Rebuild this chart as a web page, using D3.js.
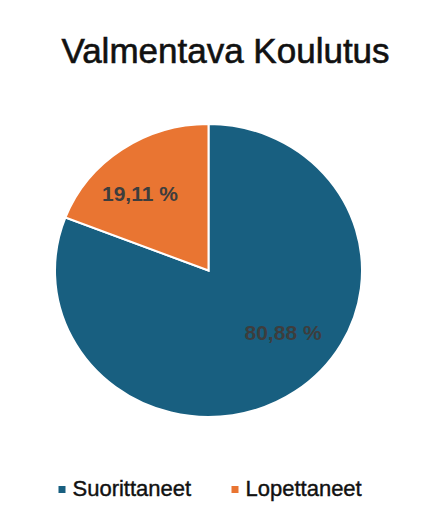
<!DOCTYPE html>
<html>
<head>
<meta charset="utf-8">
<script src="https://cdn.jsdelivr.net/npm/d3@7"></script>
<style>
  html, body { margin: 0; padding: 0; background: #ffffff; }
  svg { display: block; }
  text { font-family: "Liberation Sans", Arial, sans-serif; }
</style>
</head>
<body>
<svg id="chart" width="435" height="512"></svg>
<script>
const title = "Valmentava Koulutus";
const categories = ["Suorittaneet", "Lopettaneet"];
const values = [80.88, 19.11];
const colors = ["#185f80", "#e97532"];

const svg = d3.select("#chart");
const W = 435, H = 512;
const cx = 208.5, cy = 270.5, rx = 153.5, ry = 146.5;

svg.append("text")
  .attr("x", 225.5).attr("y", 62.5)
  .attr("text-anchor", "middle")
  .attr("font-size", 35)
  .attr("fill", "#111")
  .attr("stroke", "#111")
  .attr("stroke-width", 0.6)
  .text(title);

const data = categories.map((c, i) => ({ name: c, value: values[i], color: colors[i] }));
const pie = d3.pie().value(d => d.value).sort(null);
const arcs = pie(data);
const arc = d3.arc().innerRadius(0).outerRadius(rx);

const g = svg.append("g").attr("transform", `translate(${cx},${cy}) scale(1,${ry / rx})`);
g.selectAll("path").data(arcs).enter().append("path")
  .attr("d", arc)
  .attr("fill", d => d.data.color)
  .attr("stroke", "#ffffff")
  .attr("stroke-width", 2)
  .attr("vector-effect", "non-scaling-stroke");

const fmt = v => d3.format(".2f")(v).replace(".", ",") + " %";
svg.selectAll("text.lbl").data(arcs).enter().append("text")
  .attr("class", "lbl")
  .attr("x", d => { const m = (d.startAngle + d.endAngle) / 2; return cx + 0.825 * rx * Math.sin(m) + 3; })
  .attr("y", d => { const m = (d.startAngle + d.endAngle) / 2; return cy - 0.579 * ry * Math.cos(m); })
  .attr("text-anchor", "middle")
  .attr("font-size", 21)
  .attr("font-weight", "bold")
  .attr("fill", "#3d3d3d")
  .text(d => fmt(d.data.value));

// legend
const legend = svg.append("g");
const legX = [58.5, 231.5];
data.forEach((d, i) => {
  const item = legend.append("g").attr("transform", `translate(${legX[i]},0)`);
  item.append("rect").attr("x", 0).attr("y", 486).attr("width", 7).attr("height", 7).attr("fill", d.color);
  item.append("text").attr("x", 14).attr("y", 496)
    .attr("font-size", 22).attr("fill", "#111")
    .attr("stroke", "#111").attr("stroke-width", 0.4)
    .text(d.name);
});
</script>
</body>
</html>
